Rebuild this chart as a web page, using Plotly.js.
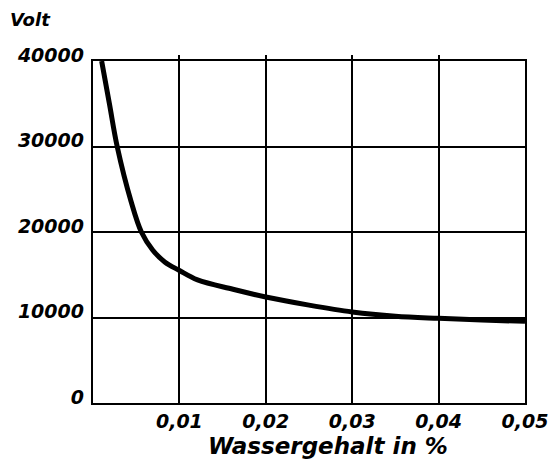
<!DOCTYPE html>
<html>
<head>
<meta charset="utf-8">
<script src="https://cdn.plot.ly/plotly-3.0.1.min.js"></script>
<style>html,body{margin:0;padding:0;background:#fff;}</style>
</head>
<body>
<div id="chart" style="width:558px;height:461px;"></div>
<script>
// Wassergehalt in % (x) and Durchschlagspannung in Volt (y)
const wassergehalt = [0.0010, 0.0019, 0.0028, 0.0044, 0.0056, 0.0069, 0.0083, 0.0100, 0.0121, 0.0162, 0.0200, 0.0250, 0.0300, 0.0350, 0.0400, 0.0450, 0.0500];
const volt        = [40000, 35000, 30000, 23600, 20000, 17900, 16500, 15500, 14400, 13300, 12400, 11450, 10650, 10150, 9900, 9700, 9550];

const xTickVals = [0.01, 0.02, 0.03, 0.04, 0.05];
const xTickText = ["0,01", "0,02", "0,03", "0,04", "0,05"];
const yTickVals = [0, 10000, 20000, 30000, 40000];
const yTickText = ["0", "10000", "20000", "30000", "40000"];

const tickFont = {family: "DejaVu Sans", size: 19, color: "#000", style: "italic", weight: "bold"};

const curve = {
  x: wassergehalt, y: volt, type: "scatter", mode: "lines",
  line: {color: "#000", width: 5, shape: "spline", smoothing: 1.0},
  hoverinfo: "skip"
};
// same data on a label-only axis (transparent); its domain is lifted a few pixels
// so the y tick labels sit slightly above the grid lines, as in the original
const labelCarrier = {
  x: wassergehalt, y: volt, type: "scatter", mode: "lines", yaxis: "y2",
  line: {color: "rgba(0,0,0,0)", width: 0}, opacity: 0, hoverinfo: "skip"
};

const H = 461, T = 55, B = 58;
const plotH = H - T - B;          // 348
const lift = 6;                   // px

const layout = {
  width: 558, height: H,
  margin: {l: 93, r: 33, t: T, b: B},
  paper_bgcolor: "#fff", plot_bgcolor: "rgba(0,0,0,0)",
  showlegend: false,
  xaxis: {
    range: [0, 0.05], tickvals: xTickVals, ticktext: xTickText,
    showgrid: true, gridcolor: "#000", gridwidth: 2,
    showline: true, linecolor: "#000", linewidth: 2, mirror: true,
    zeroline: false, ticks: "", tickfont: tickFont, fixedrange: true
  },
  yaxis: {
    domain: [0, (plotH - lift) / plotH],
    range: [0, 40000], tickvals: yTickVals,
    showgrid: true, gridcolor: "#000", gridwidth: 2,
    showline: true, linecolor: "#000", linewidth: 2, mirror: true,
    zeroline: false, ticks: "", showticklabels: false, fixedrange: true
  },
  yaxis2: {
    domain: [lift / plotH, 1], anchor: "x",
    range: [0, 40000], tickvals: yTickVals, ticktext: yTickText,
    showgrid: false, showline: false, zeroline: false, ticks: "",
    tickfont: tickFont, ticklabelstandoff: 8, fixedrange: true
  },
  annotations: [
    {text: "Volt", xref: "paper", yref: "paper", x: -0.197, y: 1.0, yshift: 36,
     xanchor: "left", yanchor: "middle", showarrow: false,
     font: {family: "DejaVu Sans", size: 18, color: "#000", style: "italic", weight: "bold"}},
    {text: "Wassergehalt in %", xref: "paper", yref: "paper", x: 0.544, y: 0, yshift: -43,
     xanchor: "center", yanchor: "middle", showarrow: false,
     font: {family: "DejaVu Sans", size: 23, color: "#000", style: "italic", weight: "bold"}}
  ]
};

Plotly.newPlot("chart", [curve, labelCarrier], layout, {displayModeBar: false, staticPlot: true});
</script>
</body>
</html>
